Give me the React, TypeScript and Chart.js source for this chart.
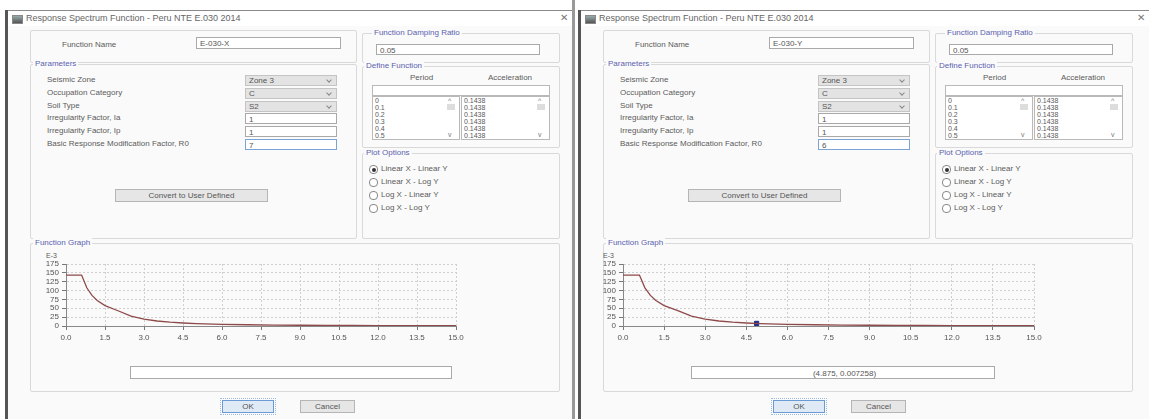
import React, { useEffect, useRef } from "react";
import { Chart, registerables } from "chart.js";
Chart.register(...registerables);

// ---- data ----
const PERIODS = [0, 0.2, 0.4, 0.6, 0.8, 1.0, 1.2, 1.5, 2.0, 2.5, 3.0, 3.5, 4.0, 4.5, 5.0, 6.0, 7.0, 8.0, 9.0, 10.0, 11.0, 12.0, 13.0, 14.0, 15.0];
const ACCEL_E3 = [143.8, 143.8, 143.8, 143.8, 107.8, 86.3, 71.9, 57.5, 43.1, 27.6, 19.2, 14.1, 10.8, 8.5, 6.9, 4.8, 3.5, 2.7, 2.1, 1.7, 1.4, 1.2, 1.0, 0.9, 0.8];
const X_TICKS = [0, 1.5, 3.0, 4.5, 6.0, 7.5, 9.0, 10.5, 12.0, 13.5, 15.0];
const Y_TICKS = [0, 25, 50, 75, 100, 125, 150, 175];
const LIST_PERIODS = ["0", "0.1", "0.2", "0.3", "0.4", "0.5"];
const LIST_ACCELS = ["0.1438", "0.1438", "0.1438", "0.1438", "0.1438", "0.1438"];
const MARKER_X = [4.875];
const MARKER_Y = [7.258];
const PARAM_LABELS = ["Seismic Zone", "Occupation Category", "Soil Type", "Irregularity Factor, Ia", "Irregularity Factor, Ip", "Basic Response Modification Factor, R0"];
const PLOT_OPTIONS = ["Linear X - Linear Y", "Linear X - Log Y", "Log X - Linear Y", "Log X - Log Y"];

const FONT = "'Liberation Sans', Arial, sans-serif";

type ChartProps = { left: number; top: number; plotW: number; plotH: number; marker: boolean };

function SpectrumChart({ left, top, plotW, plotH, marker }: ChartProps) {
  const ref = useRef<HTMLCanvasElement | null>(null);
  const AXW = 36, PADT = 8, PADR = 14, AXH = 18;
  const W = AXW + plotW + PADR;
  const H = PADT + plotH + AXH;
  useEffect(() => {
    if (!ref.current) return;
    const datasets: any[] = [
      {
        data: PERIODS.map((p, i) => ({ x: p, y: ACCEL_E3[i] })),
        borderColor: "#8e4a4a",
        borderWidth: 1.3,
        pointRadius: 0,
        showLine: true,
        tension: 0,
      },
    ];
    if (marker) {
      datasets.push({
        data: MARKER_X.map((x, i) => ({ x, y: MARKER_Y[i] })),
        backgroundColor: "#1b2a8a",
        borderColor: "#1b2a8a",
        pointStyle: "rect",
        pointRadius: 3,
        showLine: false,
      });
    }
    const grid = { color: "#cfcfcf", lineWidth: 1, tickLength: 4, tickColor: "#777" };
    const chart = new Chart(ref.current, {
      type: "scatter",
      data: { datasets },
      options: {
        animation: false,
        responsive: false,
        layout: { padding: { top: PADT, right: PADR, left: 0, bottom: 0 } },
        plugins: { legend: { display: false }, tooltip: { enabled: false } },
        scales: {
          x: {
            type: "linear",
            min: 0,
            max: 15,
            afterBuildTicks: (s: any) => { s.ticks = X_TICKS.map((v) => ({ value: v })); },
            afterFit: (s: any) => { s.height = AXH; },
            ticks: { font: { size: 8, family: FONT }, color: "#555", padding: 3, maxRotation: 0, autoSkip: false, callback: (v: any) => Number(v).toFixed(1) },
            grid: grid as any,
            border: { color: "#888", dash: [2, 2] } as any,
          },
          y: {
            type: "linear",
            min: 0,
            max: 175,
            afterBuildTicks: (s: any) => { s.ticks = Y_TICKS.map((v) => ({ value: v })); },
            afterFit: (s: any) => { s.width = AXW; },
            ticks: { font: { size: 8, family: FONT }, color: "#555", padding: 3, autoSkip: false },
            grid: grid as any,
            border: { color: "#888", dash: [2, 2] } as any,
          },
        },
      } as any,
    });
    return () => chart.destroy();
  }, [marker]);
  return (
    <canvas ref={ref} width={W} height={H} style={{ position: "absolute", left: left - AXW, top: top - PADT, width: W, height: H }} />
  );
}

const T = ({ x, y, c, s, children }: any) => (
  <div style={{ position: "absolute", left: x, top: y, fontSize: s || 8, color: c || "#5a5a5a", whiteSpace: "nowrap", lineHeight: "10px", fontFamily: FONT }}>{children}</div>
);

const Box = ({ x, y, w, h, title, tx }: any) => (
  <>
    <div style={{ position: "absolute", left: x, top: y, width: w, height: h, border: "1px solid #d9d9d9", borderRadius: 2 }} />
    {title && (
      <div style={{ position: "absolute", left: tx ?? x + 3, top: y - 5, fontSize: 8, color: "#5a62b0", background: "#fafafa", padding: "0 2px", lineHeight: "10px", fontFamily: FONT, whiteSpace: "nowrap" }}>{title}</div>
    )}
  </>
);

const Input = ({ x, y, w, h, text, blue, center }: any) => (
  <div style={{ position: "absolute", left: x, top: y, width: w, height: h || 11, border: `1px solid ${blue ? "#7aa3d6" : "#a9a9a9"}`, background: "#fff", fontSize: 8, color: "#555", lineHeight: `${h || 11}px`, paddingLeft: 3, boxSizing: "border-box", fontFamily: FONT, textAlign: center ? "center" : "left", whiteSpace: "nowrap" }}>{text}</div>
);

const Drop = ({ x, y, w, text }: any) => (
  <div style={{ position: "absolute", left: x, top: y, width: w, height: 11, border: "1px solid #c4c4c4", background: "#e3e3e3", fontSize: 8, color: "#555", lineHeight: "10px", paddingLeft: 3, boxSizing: "border-box", fontFamily: FONT }}>
    {text}
    <div style={{ position: "absolute", right: 5, top: 2, width: 3, height: 3, borderRight: "1px solid #888", borderBottom: "1px solid #888", transform: "rotate(45deg)" }} />
  </div>
);

const Button = ({ x, y, w, text, def }: any) => (
  <div style={{ position: "absolute", left: x, top: y, width: w, height: 13, border: `1px solid ${def ? "#6b9bd4" : "#b5b5b5"}`, background: def ? "#dfeaf6" : "#e6e6e6", fontSize: 8, color: "#555", lineHeight: "12px", textAlign: "center", boxSizing: "border-box", fontFamily: FONT, outline: def ? "1px dotted #9bbbe0" : "none", outlineOffset: 1 }}>{text}</div>
);

const Radio = ({ x, y, on, text }: any) => (
  <>
    <div style={{ position: "absolute", left: x, top: y, width: 7, height: 7, borderRadius: 4, border: "1px solid #888", background: "#fff" }}>
      {on && <div style={{ position: "absolute", left: 1.5, top: 1.5, width: 4, height: 4, borderRadius: 2, background: "#333" }} />}
    </div>
    <T x={x + 12} y={y - 1}>{text}</T>
  </>
);

type DlgProps = { ox: number; width: number; name: string; r0: string; marker: boolean; readout: string; plotL: number; plotR: number; txt: [number, number]; ok: number };

function Dialog({ ox, width, name, r0, marker, readout, plotL, plotR, txt, ok }: DlgProps) {
  const vals = ["Zone 3", "C", "S2", "1", "1", r0];
  return (
    <div style={{ position: "absolute", left: ox, top: 0, width, height: 419 }}>
      {/* frame */}
      <div style={{ position: "absolute", left: 5, top: 10, width: width - 5, height: 1, background: "#8a8a8a" }} />
      <div style={{ position: "absolute", left: 8, top: 26, width: width - 8, height: 393, background: "#fafafa" }} />
      <div style={{ position: "absolute", left: 5, top: 10, width: 3, height: 409, background: "#555" }} />
      {/* title */}
      <div style={{ position: "absolute", left: 12, top: 15, width: 9, height: 7, background: "linear-gradient(#9aa,#555)", border: "1px solid #888" }} />
      <T x={26} y={13} s={9} c="#666">Response Spectrum Function - Peru NTE E.030 2014</T>
      <T x={width - 12} y={13} s={10} c="#777">✕</T>

      {/* function name */}
      <Box x={30} y={30} w={325} h={31} />
      <T x={62} y={40}>Function Name</T>
      <Input x={196} y={37} w={145} h={12} text={name} />

      {/* damping */}
      <Box x={362} y={33} w={196} h={28} title="Function Damping Ratio" tx={372} />
      <Input x={376} y={44} w={164} h={11} text="0.05" />

      {/* parameters */}
      <Box x={30} y={64} w={325} h={173} title="Parameters" />
      {PARAM_LABELS.map((l, i) => (
        <React.Fragment key={l}>
          <T x={47} y={75 + i * 12.8}>{l}</T>
          {i < 3 ? <Drop x={245} y={75 + i * 12.8} w={92} text={vals[i]} /> : <Input x={245} y={75 + i * 12.8} w={92} text={vals[i]} blue={i === 5} />}
        </React.Fragment>
      ))}
      <Button x={115} y={189} w={153} text="Convert to User Defined" />

      {/* define function */}
      <Box x={362} y={66} w={196} h={80} title="Define Function" tx={364} />
      <T x={410} y={73}>Period</T>
      <T x={488} y={73}>Acceleration</T>
      <div style={{ position: "absolute", left: 372, top: 85, width: 176, height: 9, border: "1px solid #b9b9b9", background: "#fff" }} />
      <div style={{ position: "absolute", left: 372, top: 96, width: 86, height: 42, border: "1px solid #b9b9b9", background: "#fff" }} />
      <div style={{ position: "absolute", left: 461, top: 96, width: 87, height: 42, border: "1px solid #b9b9b9", background: "#fff" }} />
      {LIST_PERIODS.map((p, i) => (
        <T key={"p" + i} x={375} y={96 + i * 7} s={7}>{p}</T>
      ))}
      {LIST_ACCELS.map((a, i) => (
        <T key={"a" + i} x={464} y={96 + i * 7} s={7}>{a}</T>
      ))}
      <T x={448} y={96} s={7} c="#777">^</T>
      <T x={448} y={130} s={7} c="#777">v</T>
      <div style={{ position: "absolute", left: 447, top: 104, width: 8, height: 6, background: "#ddd" }} />
      <T x={538} y={96} s={7} c="#777">^</T>
      <T x={538} y={130} s={7} c="#777">v</T>
      <div style={{ position: "absolute", left: 537, top: 104, width: 8, height: 6, background: "#ddd" }} />

      {/* plot options */}
      <Box x={362} y={153} w={196} h={84} title="Plot Options" tx={364} />
      {PLOT_OPTIONS.map((o, i) => (
        <Radio key={o} x={369} y={165 + i * 13} on={i === 0} text={o} />
      ))}

      {/* function graph */}
      <Box x={30} y={243} w={528} h={147} title="Function Graph" />
      <T x={plotL - 20} y={251} s={7}>E-3</T>
      <SpectrumChart left={plotL} top={264} plotW={plotR - plotL} plotH={62} marker={marker} />
      <Input x={txt[0]} y={366} w={txt[1] - txt[0]} h={13} text={readout} center />

      {/* buttons */}
      <Button x={ok} y={400} w={52} text="OK" def />
      <Button x={ok + 78} y={400} w={55} text="Cancel" />
    </div>
  );
}

export default function App() {
  useEffect(() => {
    document.body.style.margin = "0";
  }, []);
  return (
    <div style={{ position: "fixed", left: 0, top: 0, width: 1149, height: 419, background: "#fff", overflow: "hidden", filter: "blur(0.4px)" }}>
      <Dialog ox={0} width={572} name="E-030-X" r0="7" marker={false} readout="" plotL={66} plotR={456} txt={[130, 452]} ok={222} />
      <div style={{ position: "absolute", left: 572, top: 0, width: 3, height: 419, background: "#999" }} />
      <Dialog ox={573} width={576} name="E-030-Y" r0="6" marker={true} readout="(4.875, 0.007258)" plotL={50} plotR={461} txt={[118, 422]} ok={200} />
    </div>
  );
}
